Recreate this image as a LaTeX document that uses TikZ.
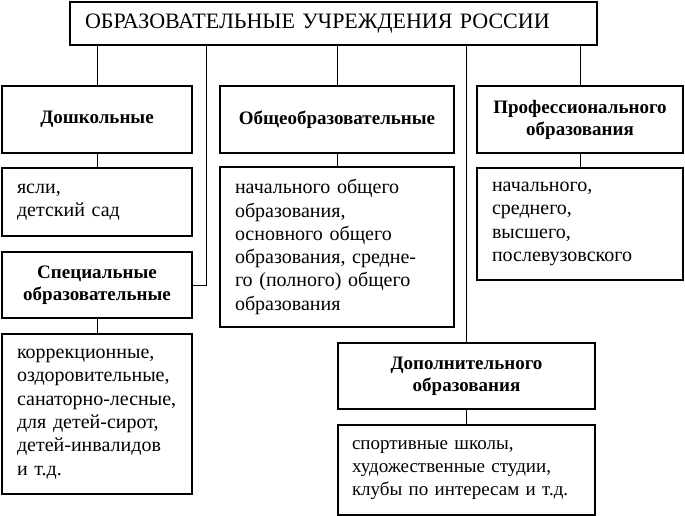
\documentclass[tikz,border=0pt]{standalone}
\usepackage{fontspec}
\setmainfont{Liberation Serif}
\usetikzlibrary{calc}

\begin{document}
\begin{tikzpicture}[x=1pt, y=-1pt]

\tikzset{head/.style = {draw, line width=1.6pt, align=center, inner sep=0pt, font=\bfseries\fontsize{19}{22}\selectfont}}
\tikzset{list/.style = {draw, line width=1.6pt, align=left, inner xsep=15pt, inner ysep=0pt, font=\fontsize{20}{23.3}\selectfont}}
\tikzset{link/.style = {line width=1pt}}
\useasboundingbox (0,0) rectangle (685,516);
%title
\node[list, font=\fontsize{22}{24}\selectfont, text width=497pt, minimum height=43pt] (top) at (333.5,23.5) {ОБРАЗОВАТЕЛЬНЫЕ УЧРЕЖДЕНИЯ РОССИИ};
%first row
\node[head, minimum width=190pt, minimum height=67pt] (dosh) at (97,119.5) {Дошкольные};
\node[head, minimum width=234pt, minimum height=67pt] (obsh) at (337,119.5) {Общеобразовательные};
\node[head, minimum width=206pt, minimum height=67pt] (prof) at (580,119.5) {Профессионального\\образования};
%lists
\node[list, text width=160pt, minimum height=68pt] (yasli) at (97,202) {ясли,\\детский сад};
\node[list, text width=204pt, minimum height=160pt] (nach) at (337,247) {начального общего\\образования,\\основного общего\\образования, средне-\\го (полного) общего\\образования};
\node[list, text width=176pt, minimum height=112pt] (profsub) at (580,224) {начального,\\среднего,\\высшего,\\послевузовского};
\node[head, minimum width=190pt, minimum height=66pt] (spec) at (97,285) {Специальные\\образовательные};
\node[list, text width=160pt, minimum height=160pt] (korr) at (97,414) {коррекционные,\\оздоровительные,\\санаторно-лесные,\\для детей-сирот,\\детей-инвалидов\\и т.д.};
\node[head, minimum width=257pt, minimum height=66pt] (dop) at (466.5,376) {Дополнительного\\образования};
\node[list, font=\fontsize{19}{23.3}\selectfont, text width=229pt, inner xsep=14pt, minimum height=90pt] (dopsub) at (466.5,470) {спортивные школы,\\художественные студии,\\клубы по интересам и т.д.};
%connectors
\coordinate (gap) at ($(dosh.east)!0.5!(obsh.west)$);
\draw[link] (top.south -| dosh.north) -- (dosh.north);
\draw[link] (top.south -| obsh.north) -- (obsh.north);
\draw[link] (top.south -| prof.north) -- (prof.north);
\draw[link] (top.south -| gap) -- (gap |- spec.east) -- (spec.east);
\draw[link] (top.south -| dop.north) -- (dop.north);
\draw[link] (dosh) -- (yasli);
\draw[link] (obsh) -- (nach);
\draw[link] (prof) -- (profsub);
\draw[link] (spec) -- (korr);
\draw[link] (dop) -- (dopsub);

\end{tikzpicture}
\end{document}
